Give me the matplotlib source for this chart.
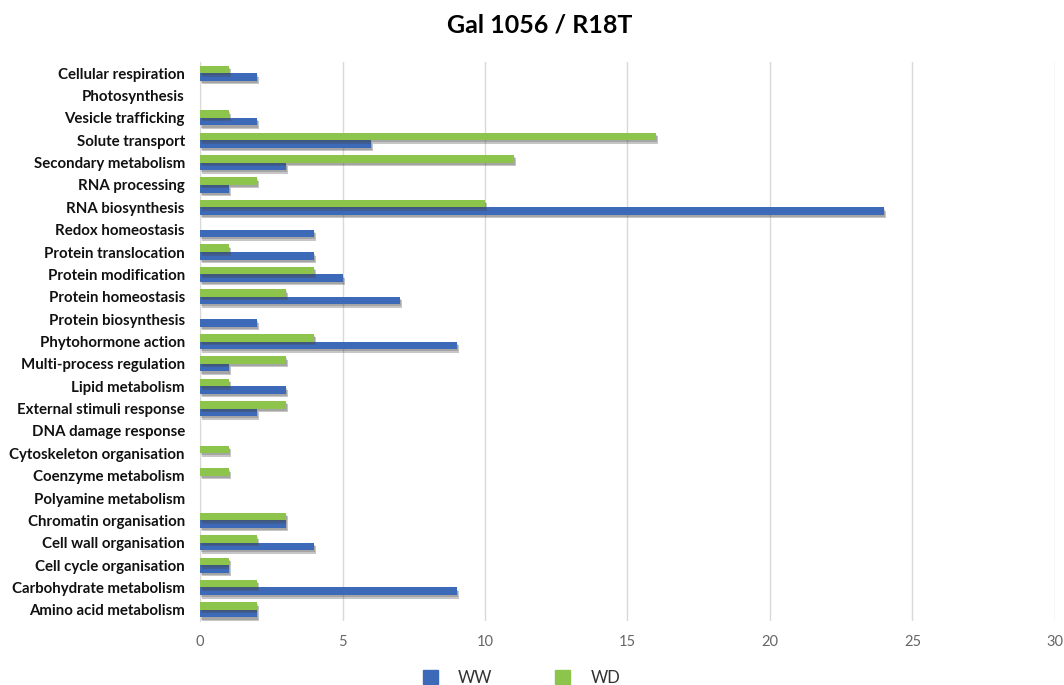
import matplotlib
matplotlib.use("Agg")
import matplotlib.pyplot as plt
import matplotlib.patheffects as pe
from matplotlib.patches import Rectangle
import numpy as np

categories = [
    "Cellular respiration", "Photosynthesis", "Vesicle trafficking", "Solute transport",
    "Secondary metabolism", "RNA processing", "RNA biosynthesis", "Redox homeostasis",
    "Protein translocation", "Protein modification", "Protein homeostasis",
    "Protein biosynthesis", "Phytohormone action", "Multi-process regulation",
    "Lipid metabolism", "External stimuli response", "DNA damage response",
    "Cytoskeleton organisation", "Coenzyme metabolism", "Polyamine metabolism",
    "Chromatin organisation", "Cell wall organisation", "Cell cycle organisation",
    "Carbohydrate metabolism", "Amino acid metabolism",
]
ww = [2, 0, 2, 6, 3, 1, 24, 4, 4, 5, 7, 2, 9, 1, 3, 2, 0, 0, 0, 0, 3, 4, 1, 9, 2]
wd = [1, 0, 1, 16, 11, 2, 10, 0, 1, 4, 3, 0, 4, 3, 1, 3, 0, 1, 1, 0, 3, 2, 1, 2, 2]
xticks = [0, 5, 10, 15, 20, 25, 30]

title = "Gal 1056 / R18T"
blue = "#3d6ab8"
green = "#8cc44c"

plt.rcParams["font.family"] = ["Lato", "DejaVu Sans"]

fig = plt.figure(figsize=(10.64, 6.85), dpi=100)
ax = fig.add_axes([0.188, 0.0934, 0.8035, 0.8161])

y = np.arange(len(categories))
h = 0.34
shadow = [pe.SimplePatchShadow(offset=(1.5, -2.5), shadow_rgbFace="#444444", alpha=0.3),
          pe.SimplePatchShadow(offset=(1, -1.5), shadow_rgbFace="#444444", alpha=0.25),
          pe.Normal()]
b1 = ax.barh(y + h / 2, ww, height=h, color=blue, zorder=3)
b2 = ax.barh(y - h / 2, wd, height=h, color=green, zorder=3)
for bar in list(b1) + list(b2):
    if bar.get_width() > 0:
        bar.set_path_effects(shadow)

ax.set_ylim(len(categories) - 0.5, -0.5)
ax.set_xlim(0, 30)
ax.set_yticks(y)
ax.set_yticklabels(categories, fontsize=10.8, fontweight="bold", color="#111111")
ax.set_xticks(xticks)
ax.set_xticklabels([str(t) for t in xticks], fontsize=10.5, color="#666666")
ax.tick_params(axis="both", length=0)
ax.tick_params(axis="x", pad=10)
ax.tick_params(axis="y", pad=11)
ax.grid(axis="x", color="#d9d9d9", linewidth=1, zorder=0)
for s in ["top", "right", "bottom"]:
    ax.spines[s].set_visible(False)
ax.spines["left"].set_color("#d9d9d9")

fig.text(0.507, 0.963, title, ha="center", va="center", fontsize=18, fontweight="bold")

handles = [Rectangle((0, 0), 1, 1, color=blue), Rectangle((0, 0), 1, 1, color=green)]
fig.legend(handles, ["WW", "WD"], loc="center", bbox_to_anchor=(0.49, 0.01),
           ncol=2, frameon=False, fontsize=12, handlelength=0.9, handleheight=0.9,
           columnspacing=3.8, handletextpad=1.2, labelcolor="#333333")

fig.savefig("out.png", dpi=100)
